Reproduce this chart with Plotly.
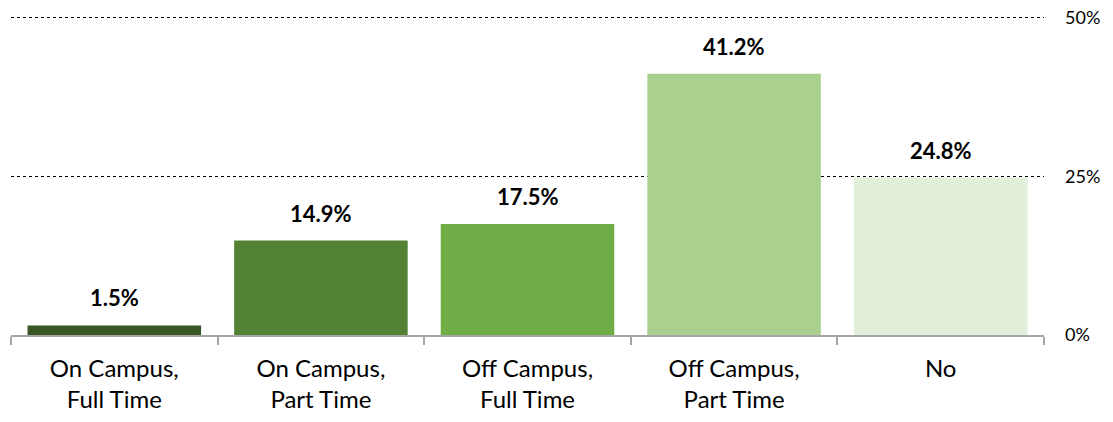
import plotly.graph_objects as go

# data
categories = ["On Campus,<br>Full Time", "On Campus,<br>Part Time", "Off Campus,<br>Full Time",
              "Off Campus,<br>Part Time", "No"]
values = [1.5, 14.9, 17.5, 41.2, 24.8]
labels = ["1.5%", "14.9%", "17.5%", "41.2%", "24.8%"]
colors = ["#375623", "#548235", "#70AD47", "#A9D08E", "#E2EFDA"]

font = "Lato, 'Open Sans', sans-serif"

fig = go.Figure()
fig.add_trace(go.Bar(x=categories, y=values, marker_color=colors, marker_line_width=0,
                     width=0.84, hoverinfo="skip"))

# value labels above bars
for c, v, t in zip(categories, values, labels):
    fig.add_annotation(x=c, y=v, text="<b>" + t + "</b>", showarrow=False,
                       yanchor="bottom", yshift=12,
                       font=dict(family=font, size=22, color="black"))

# page body has an 8px margin, so the figure is sized/offset to fit the window
fig.update_layout(
    width=1105, height=414,
    margin=dict(l=3, r=69, t=8, b=87),
    paper_bgcolor="white", plot_bgcolor="white",
    showlegend=False,
    font=dict(family=font, color="black"),
)
fig.update_xaxes(
    type="category", tickson="boundaries", ticks="outside", ticklen=8,
    tickcolor="#A6A6A6", tickwidth=1.5, automargin=False,
    showline=True, linecolor="#A6A6A6", linewidth=1.5,
    tickfont=dict(family=font, size=24, color="black"),
    ticklabelstandoff=11,
    showgrid=False,
)
fig.update_yaxes(
    range=[0, 50.3], tickvals=[0, 25, 50], ticktext=["0%", "25%", "50%"],
    side="right", ticklabelstandoff=20, automargin=False,
    ticklabeloverflow="allow",
    showgrid=True, gridcolor="black", griddash="dot", gridwidth=1,
    zeroline=False, showline=False,
    tickfont=dict(family=font, size=18, color="black"),
)

fig.write_html("out.html")
